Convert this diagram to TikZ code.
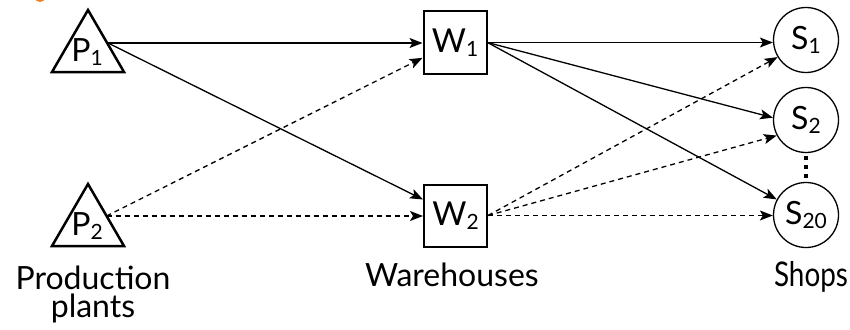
\documentclass[tikz,border=0pt]{standalone}
\usepackage{fontspec}
\setmainfont{Lato}
\usetikzlibrary{arrows.meta,calc}
\definecolor{hdorange}{RGB}{240,130,40}
\newcommand\subs[1]{\raisebox{-4pt}{\fontsize{21}{21}\selectfont #1}}
\begin{document}
\begin{tikzpicture}[x=1pt,y=-1pt,
  conn/.style={line width=1.3pt,-{Stealth[length=13pt,width=10pt,inset=3pt]}},
  dsh/.style={conn,dash pattern=on 5pt off 4pt},
  bigtxt/.style={font=\fontsize{32}{28}\selectfont,inner sep=0pt,align=center},
  wbox/.style={draw,line width=2pt,minimum width=63pt,minimum height=62pt,inner sep=0pt,font=\fontsize{33}{33}\selectfont},
  shop/.style={draw,circle,line width=1.3pt,minimum size=65pt,inner sep=0pt,font=\fontsize{32}{32}\selectfont},
  tri/.style={line width=2.5pt,line join=miter}
]
\useasboundingbox (0,0) rectangle (850,329);
\fill[hdorange] (40,-2) ellipse (5pt and 4pt);

% production plants
\draw[tri] (88,10) -- (124,72) -- (52,72) -- cycle;
\draw[tri] (88,184) -- (124,246) -- (52,246) -- cycle;
\node[bigtxt,anchor=base] (P1) at (87,62) {P\subs{1}};
\node[bigtxt,anchor=base] (P2) at (87,235) {P\subs{2}};
\coordinate (P1out) at (108,43);
\coordinate (P2out) at (106.5,216);

% warehouses
\node[wbox] (W1) at (455,42.5) {W\subs{1}};
\node[wbox] (W2) at (455.5,215.5) {W\subs{2}};

% shops
\node[shop] (S1) at (806,40) {S\subs{1}};
\node[shop] (S2) at (806,120) {S\subs{2}};
\node[shop] (S20) at (806,215) {S\subs{20}};
\draw[line width=4pt,dash pattern=on 4pt off 5pt,shorten <=3pt,shorten >=1pt] (S2.south) -- (S20.north);

% labels
\node[bigtxt,anchor=base] (lp) at (93,317) {Production\\plants};
\node[bigtxt,anchor=base] (lw) at (452,286) {Warehouses};
\node[bigtxt,anchor=base,font=\fontsize{34}{34}\selectfont] (ls) at (811,286) {\scalebox{0.82}[1]{Shops}};

% plants -> warehouses
\draw[conn] (P1out) -- (P1out -| W1.west);
\draw[conn] (P1out) -- ($(W2.north west)!0.25!(W2.south west)$);
\draw[dsh] (P2out) -- ($(W1.south west)!0.26!(W1.north west)$);
\draw[dsh] (P2out) -- (P2out -| W2.west);

% warehouses -> shops
\draw[conn] (W1.east) -- (W1.east -| S1.west);
\draw[conn] (W1.east) -- (S2.176);
\draw[conn] (W1.east) -- (S20.152);
\draw[dsh] (W2.east) -- (S1.211);
\draw[dsh] (W2.east) -- (S2.208);
\draw[dsh] (W2.east) -- (W2.east -| S20.west);
\end{tikzpicture}
\end{document}
